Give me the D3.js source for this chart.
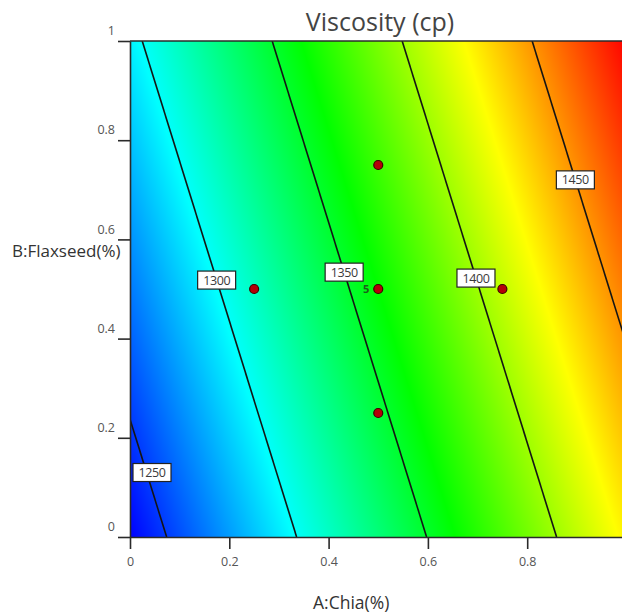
<!DOCTYPE html>
<html>
<head>
<meta charset="utf-8">
<script src="https://cdn.jsdelivr.net/npm/d3@7"></script>
<style>
  html, body { margin: 0; padding: 0; background: #fff; }
  svg { display: block; font-family: "Open Sans", "Noto Sans", sans-serif; }
</style>
</head>
<body>
<svg id="chart" width="622" height="614"></svg>
<script>
// fitted linear model: Viscosity = b0 + bA*A + bB*B
const modelTerms = ["Intercept", "A", "B"];
const coefficients = [1235.9, 191.0, 59.4];

// contour levels and where their labels sit (B value along each line)
const levels = [1250, 1300, 1350, 1400, 1450];
const labelB = [0.13, 0.518, 0.534, 0.522, 0.72];

// design points
const designA = [0.25, 0.5, 0.5, 0.75, 0.5];
const designB = [0.5, 0.75, 0.5, 0.5, 0.25];
const designReps = [1, 1, 5, 1, 1];

const xTicks = [0, 0.2, 0.4, 0.6, 0.8];
const yTicks = [0, 0.2, 0.4, 0.6, 0.8, 1];

const colorStops = ["#0000ff", "#00ffff", "#00ff00", "#ffff00", "#ff0000"];

class ContourPlot {
  constructor(option) {
    let o = {
      el: "#chart",
      width: 622,
      height: 614,
      margin: { top: 41, left: 130, bottom: 77 },
      plotSize: 496.5
    };
    Object.assign(this, o, option);
    this.init();
  }

  init() {
    this.svg = d3.select(this.el);
    this.svg.html("");
    const m = this.margin;
    this.x = d3.scaleLinear().domain([0, 1]).range([m.left, m.left + this.plotSize]);
    this.y = d3.scaleLinear().domain([0, 1]).range([this.height - m.bottom, m.top]);

    const vals = [0, 1].flatMap(a => [0, 1].map(b => this.predict(a, b)));
    const lo = d3.min(vals), hi = d3.max(vals);
    this.color = d3.scaleLinear()
      .domain(d3.range(colorStops.length).map(i => lo + (hi - lo) * i / (colorStops.length - 1)))
      .range(colorStops)
      .clamp(true);

    this.svg.append("clipPath").attr("id", "plotClip")
      .append("rect")
      .attr("x", this.x(0)).attr("y", this.y(1))
      .attr("width", this.x(1) - this.x(0)).attr("height", this.y(0) - this.y(1));

    this.addSurface();
    this.addContours();
    this.addPoints();
    this.addAxes();
    this.addLabels();
  }

  predict(a, b) {
    return coefficients[0] + coefficients[1] * a + coefficients[2] * b;
  }

  // A value where the surface equals level for a given B
  solveA(level, b) {
    return (level - coefficients[0] - coefficients[2] * b) / coefficients[1];
  }

  addSurface() {
    const x0 = this.x(0), y0 = this.y(1);
    const w = Math.ceil(this.x(1) - x0), h = Math.ceil(this.y(0) - y0);
    const canvas = document.createElement("canvas");
    canvas.width = w; canvas.height = h;
    const ctx = canvas.getContext("2d");
    const img = ctx.createImageData(w, h);
    for (let j = 0; j < h; j++) {
      const b = this.y.invert(y0 + j + 0.5);
      for (let i = 0; i < w; i++) {
        const a = this.x.invert(x0 + i + 0.5);
        const c = d3.rgb(this.color(this.predict(a, b)));
        const k = (j * w + i) * 4;
        img.data[k] = c.r; img.data[k + 1] = c.g; img.data[k + 2] = c.b; img.data[k + 3] = 255;
      }
    }
    ctx.putImageData(img, 0, 0);
    this.svg.append("image")
      .attr("x", x0).attr("y", y0)
      .attr("width", w).attr("height", h)
      .attr("preserveAspectRatio", "none")
      .attr("href", canvas.toDataURL());
  }

  addContours() {
    const g = this.svg.append("g").attr("clip-path", "url(#plotClip)");
    g.selectAll(".contour")
      .data(levels)
      .enter()
      .append("line")
      .attr("class", "contour")
      .attr("x1", d => this.x(this.solveA(d, 0)))
      .attr("y1", this.y(0))
      .attr("x2", d => this.x(this.solveA(d, 1)))
      .attr("y2", this.y(1))
      .attr("stroke", "#151515")
      .attr("stroke-width", 1.6);

    // keep label boxes inside the plot frame
    const minX = this.x(0) + 3 + 19;
    const lab = this.svg.append("g").selectAll(".clabel")
      .data(levels)
      .enter()
      .append("g")
      .attr("class", "clabel")
      .attr("transform", (d, i) =>
        `translate(${Math.max(minX, this.x(this.solveA(d, labelB[i])))},${this.y(labelB[i])})`);
    lab.append("rect")
      .attr("x", -19).attr("y", -9)
      .attr("width", 38).attr("height", 18)
      .attr("fill", "#fff")
      .attr("stroke", "#222")
      .attr("stroke-width", 1.2);
    lab.append("text")
      .attr("text-anchor", "middle")
      .attr("dy", "0.36em")
      .attr("font-size", 12.5)
      .attr("letter-spacing", -0.4)
      .attr("fill", "#3a3a3a")
      .text(d => d);
  }

  addPoints() {
    const pts = designA.map((a, i) => ({ a, b: designB[i], n: designReps[i] }));
    const g = this.svg.append("g");
    g.selectAll("circle")
      .data(pts)
      .enter()
      .append("circle")
      .attr("cx", d => this.x(d.a))
      .attr("cy", d => this.y(d.b))
      .attr("r", 4.5)
      .attr("fill", "#b40008")
      .attr("stroke", "#3c0000")
      .attr("stroke-width", 1.2);
    g.selectAll("text")
      .data(pts.filter(d => d.n > 1))
      .enter()
      .append("text")
      .attr("x", d => this.x(d.a) - 9)
      .attr("y", d => this.y(d.b))
      .attr("dy", "0.35em")
      .attr("text-anchor", "end")
      .attr("font-size", 11)
      .attr("font-weight", "bold")
      .attr("fill", "#1c5e1c")
      .text(d => d.n);
  }

  addAxes() {
    const yAxis = d3.axisLeft(this.y).tickValues(yTicks).tickSize(12).tickSizeOuter(0).tickPadding(3)
      .tickFormat(d3.format("~g"));
    const xAxis = d3.axisBottom(this.x).tickValues(xTicks).tickSize(12).tickSizeOuter(0).tickPadding(8)
      .tickFormat(d3.format("~g"));

    const gy = this.svg.append("g").attr("transform", `translate(${this.x(0)},0)`).call(yAxis);
    gy.selectAll("text").attr("dy", "-0.5em");
    const gx = this.svg.append("g").attr("transform", `translate(0,${this.y(0)})`).call(xAxis);

    [gx, gy].forEach(g => {
      g.attr("font-family", null);
      g.select(".domain").attr("stroke", "#2a2a2a").attr("stroke-width", 1.6);
      g.selectAll(".tick line").attr("stroke", "#2a2a2a").attr("stroke-width", 1.6);
      g.selectAll(".tick text").attr("font-size", 12.5).attr("fill", "#555");
    });

    // top frame
    this.svg.append("line")
      .attr("x1", this.x(0)).attr("x2", this.x(1))
      .attr("y1", this.y(1)).attr("y2", this.y(1))
      .attr("stroke", "#2a2a2a").attr("stroke-width", 1.6);
  }

  addLabels() {
    this.svg.append("text")
      .attr("x", 380).attr("y", 31)
      .attr("text-anchor", "middle")
      .attr("font-size", 25)
      .attr("fill", "#444")
      .text("Viscosity (cp)");
    this.svg.append("text")
      .attr("x", 12).attr("y", 257)
      .attr("font-size", 17)
      .attr("fill", "#333")
      .text("B:Flaxseed(%)");
    this.svg.append("text")
      .attr("x", 313).attr("y", 609)
      .attr("font-size", 17.5)
      .attr("fill", "#333")
      .text("A:Chia(%)");
  }
}

new ContourPlot({});
</script>
</body>
</html>
